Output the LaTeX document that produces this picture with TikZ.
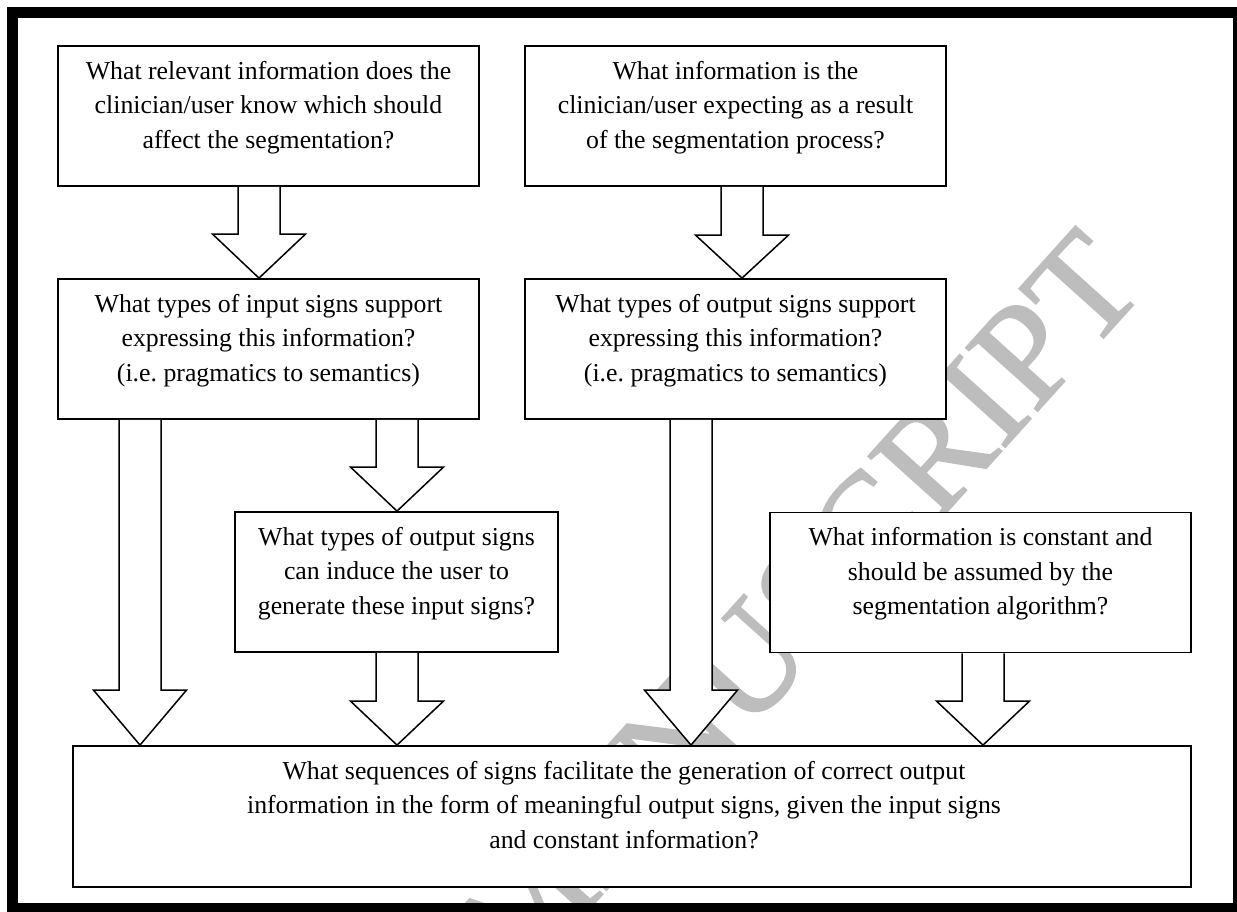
\documentclass[tikz,border=0pt]{standalone}
\usepackage{fontspec}
\setmainfont{Liberation Serif}
\newfontfamily\wmfont{Liberation Serif}[FakeBold=1.2]
\usetikzlibrary{calc}
\tikzset{
  box/.style={draw=black, line width=1.8pt, fill=white, inner sep=0pt},
  qtext/.style={align=center, inner sep=0pt, anchor=north, font=\fontsize{25.8}{34.5}\selectfont},
  blk/.style={draw=black, line width=1.5pt, fill=white, line join=miter},
  frame/.style={draw=black, line width=11pt},
  wmark/.style={rotate=48, text=black!26, inner sep=0pt, font=\wmfont\fontsize{146}{146}\selectfont},
}
\newcommand\blkarrow[4]{%
  \filldraw[blk] ($(#1 |- #2.south)+(-21,0)$) -- ($(#1 |- #3.north)+(-21,-#4)$)
    -- ($(#1 |- #3.north)+(-46.5,-#4)$) -- (#1 |- #3.north)
    -- ($(#1 |- #3.north)+(46.5,-#4)$) -- ($(#1 |- #3.north)+(21,-#4)$)
    -- ($(#1 |- #2.south)+(21,0)$);}
\begin{document}
\begin{tikzpicture}[x=1pt, y=-1pt]
\useasboundingbox (0,0) rectangle (1237,912);
\fill[white] (0,0) rectangle (1237,912);
% watermark
\node[wmark] (wm) at (798,606) {MANUSCRIPT};
% boxes
\node[box, minimum width=421, minimum height=140] (b1) at (268.5,116) {};
\node[box, minimum width=421, minimum height=140] (b2) at (735.5,116) {};
\node[box, minimum width=421, minimum height=140] (b3) at (268.5,349) {};
\node[box, minimum width=421, minimum height=140] (b4) at (735.5,349) {};
\node[box, minimum width=323, minimum height=140] (b5) at (396.5,582) {};
\node[box, minimum width=421, minimum height=140] (b6) at (980.5,582.5) {};
\node[box, minimum width=1118, minimum height=141] (b7) at (632,816.5) {};
% arrow axes
\coordinate (xa1) at (259,0);
\coordinate (xa2) at (742,0);
\coordinate (xa3) at (140,0);
\coordinate (xa4) at (397,0);
\coordinate (xa6) at (691,0);
\coordinate (xa7) at (983,0);
\blkarrow{xa1}{b1}{b3}{44}
\blkarrow{xa2}{b2}{b4}{43}
\blkarrow{xa3}{b3}{b7}{55}
\blkarrow{xa4}{b3}{b5}{44}
\blkarrow{xa4}{b5}{b7}{44}
\blkarrow{xa6}{b4}{b7}{55}
\blkarrow{xa7}{b6}{b7}{44}
% texts
\node[qtext] (t1) at ($(b1.north)+(0,16)$) {What relevant information does the\\clinician/user know which should\\affect the segmentation?};
\node[qtext] (t2) at ($(b2.north)+(0,16)$) {What information is the\\clinician/user expecting as a result\\of the segmentation process?};
\node[qtext] (t3) at ($(b3.north)+(0,16)$) {What types of input signs support\\expressing this information?\\(i.e.\ pragmatics to semantics)};
\node[qtext] (t4) at ($(b4.north)+(0,16)$) {What types of output signs support\\expressing this information?\\(i.e.\ pragmatics to semantics)};
\node[qtext] (t5) at ($(b5.north)+(0,16)$) {What types of output signs\\can induce the user to\\generate these input signs?};
\node[qtext] (t6) at ($(b6.north)+(0,16)$) {What information is constant and\\should be assumed by the\\segmentation algorithm?};
\node[qtext] (t7) at ($(b7.north)+(-8,16)$) {What sequences of signs facilitate the generation of correct output\\information in the form of meaningful output signs, given the input signs\\and constant information?};
% frame
\draw[frame] (12,13) rectangle (1238.5,908.5);
\end{tikzpicture}
\end{document}
